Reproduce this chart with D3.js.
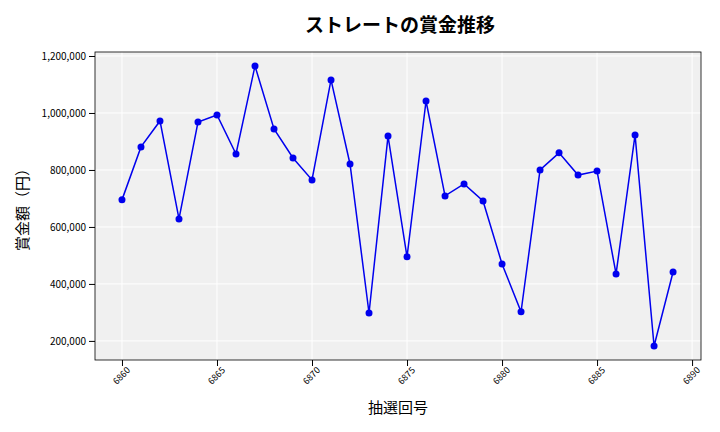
<!DOCTYPE html>
<html><head><meta charset="utf-8">
<script src="https://cdn.jsdelivr.net/npm/d3@7"></script>
<style>body{margin:0;background:#fff}text{font-family:"Noto Sans CJK JP","DejaVu Sans",sans-serif}</style>
</head><body><svg id="c" width="720" height="432"></svg>
<script>
const draws = d3.range(6860, 6890);
const prizes = [695000,881000,972000,628000,968000,993000,856000,1165000,944000,842000,765000,1116000,821000,298000,919000,495000,1042000,709000,751000,691000,470000,302000,800000,860000,782000,796000,435000,923000,182000,442000];
const xTicks = [6860,6865,6870,6875,6880,6885,6890];
const yTicks = [200000,400000,600000,800000,1000000,1200000];
const title = "ストレートの賞金推移", xLabel = "抽選回号", yLabel = "賞金額（円）";

const svg = d3.select("#c");
const L=95,R=701,T=52,B=360;
const x = d3.scaleLinear().domain([6858.58,6890.47]).range([L,R]);
const y = d3.scaleLinear().domain([133000,1214000]).range([B,T]);
svg.append("rect").attr("x",L).attr("y",T).attr("width",R-L).attr("height",B-T).attr("fill","#f0f0f0");
const g = svg.append("g");
g.selectAll(".gx").data(xTicks).join("line").attr("x1",d=>x(d)).attr("x2",d=>x(d)).attr("y1",T).attr("y2",B).attr("stroke","#fff").attr("stroke-width",1);
g.selectAll(".gy").data(yTicks).join("line").attr("y1",d=>y(d)).attr("y2",d=>y(d)).attr("x1",L).attr("x2",R).attr("stroke","#fff").attr("stroke-width",1);
svg.append("rect").attr("x",L).attr("y",T).attr("width",R-L).attr("height",B-T).attr("fill","none").attr("stroke","#000").attr("stroke-width",0.8);
const xa = svg.append("g").attr("transform",`translate(0,${B})`).call(d3.axisBottom(x).tickValues(xTicks).tickFormat(d3.format("d")).tickSizeOuter(0));
xa.select(".domain").remove();
xa.selectAll("text").attr("font-size",9).attr("transform","rotate(-45)").attr("text-anchor","end").attr("dx","-0.2em").attr("dy","0.5em");
const ya = svg.append("g").attr("transform",`translate(${L},0)`).call(d3.axisLeft(y).tickValues(yTicks).tickFormat(d3.format(",")).tickSizeOuter(0));
ya.select(".domain").remove();
ya.selectAll("text").attr("font-size",10);
const line = d3.line().x((d,i)=>x(draws[i])).y(d=>y(d));
svg.append("path").datum(prizes).attr("d",line).attr("fill","none").attr("stroke","#0000ee").attr("stroke-width",1.5);
svg.selectAll(".pt").data(prizes).join("circle").attr("cx",(d,i)=>x(draws[i])).attr("cy",d=>y(d)).attr("r",3.5).attr("fill","#0000ee");
svg.append("text").attr("x",(L+R)/2+2).attr("y",32).attr("text-anchor","middle").attr("font-size",19).attr("font-weight","bold").text(title);
svg.append("text").attr("x",(L+R)/2).attr("y",413).attr("text-anchor","middle").attr("font-size",15).text(xLabel);
svg.append("text").attr("transform",`translate(28,${(T+B)/2}) rotate(-90)`).attr("text-anchor","middle").attr("font-size",15).text(yLabel);
</script></body></html>
